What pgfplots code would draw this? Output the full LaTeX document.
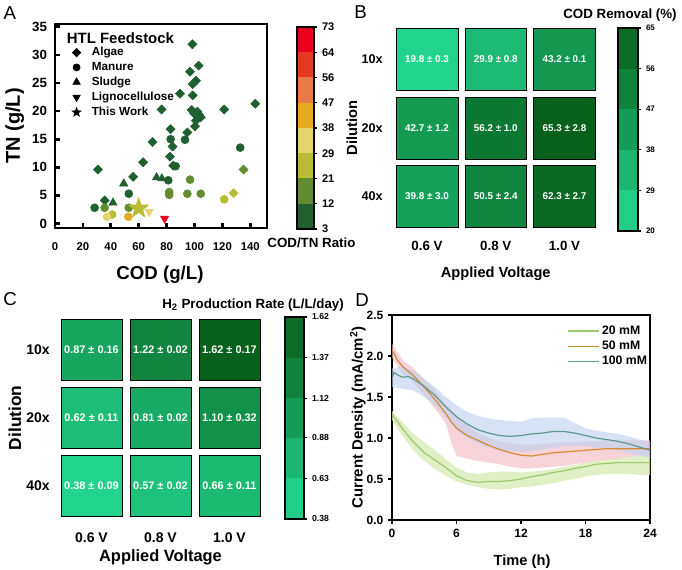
\documentclass[border=0pt]{standalone}
\usepackage{fontspec}
\setmainfont{Liberation Sans}
\usepackage{pgfplots}
\pgfplotsset{compat=1.18}

\definecolor{cA1}{HTML}{1F5F30}
\definecolor{cA2}{HTML}{628C2F}
\definecolor{cA3}{HTML}{B9BD35}
\definecolor{cA4}{HTML}{E6D36E}
\definecolor{cA5}{HTML}{E6A922}
\definecolor{cA6}{HTML}{E87A45}
\definecolor{cA7}{HTML}{E53A22}
\definecolor{cA8}{HTML}{E8001C}
\definecolor{hmL}{HTML}{22D38D}
\definecolor{hmD}{HTML}{07611A}
\definecolor{lineG}{HTML}{9CC96B}
\definecolor{bandG}{HTML}{D9EBB5}
\definecolor{lineO}{HTML}{D98A36}
\definecolor{bandO}{HTML}{F4BCC4}
\definecolor{lineT}{HTML}{5E9A8B}
\definecolor{bandT}{HTML}{BCD0EE}

\newcommand\fsz[1]{\fontsize{#1}{#1}\selectfont}

\pgfdeclareplotmark{dmd}{%
  \pgfpathmoveto{\pgfqpoint{0pt}{\pgfplotmarksize}}%
  \pgfpathlineto{\pgfqpoint{\pgfplotmarksize}{0pt}}%
  \pgfpathlineto{\pgfqpoint{0pt}{-\pgfplotmarksize}}%
  \pgfpathlineto{\pgfqpoint{-\pgfplotmarksize}{0pt}}%
  \pgfpathclose\pgfusepathqfillstroke}
\pgfdeclareplotmark{itri}{%
  \pgfpathmoveto{\pgfpointpolar{270}{\pgfplotmarksize}}%
  \pgfpathlineto{\pgfpointpolar{30}{\pgfplotmarksize}}%
  \pgfpathlineto{\pgfpointpolar{150}{\pgfplotmarksize}}%
  \pgfpathclose\pgfusepathqfillstroke}
\pgfdeclareplotmark{fstar}{%
  \pgfpathmoveto{\pgfpointpolar{90}{\pgfplotmarksize}}%
  \pgfpathlineto{\pgfpointpolar{126}{0.4\pgfplotmarksize}}%
  \pgfpathlineto{\pgfpointpolar{162}{\pgfplotmarksize}}%
  \pgfpathlineto{\pgfpointpolar{198}{0.4\pgfplotmarksize}}%
  \pgfpathlineto{\pgfpointpolar{234}{\pgfplotmarksize}}%
  \pgfpathlineto{\pgfpointpolar{270}{0.4\pgfplotmarksize}}%
  \pgfpathlineto{\pgfpointpolar{306}{\pgfplotmarksize}}%
  \pgfpathlineto{\pgfpointpolar{342}{0.4\pgfplotmarksize}}%
  \pgfpathlineto{\pgfpointpolar{18}{\pgfplotmarksize}}%
  \pgfpathlineto{\pgfpointpolar{54}{0.4\pgfplotmarksize}}%
  \pgfpathclose\pgfusepathqfillstroke}

\pgfplotsset{
  /pgf/number format/assume math mode=true,
  Acls/.style={scatter, only marks, mark=#1, point meta=explicit symbolic, forget plot,
    scatter/classes={
      a={mark=#1,draw=cA1,fill=cA1}, b={mark=#1,draw=cA2,fill=cA2},
      c={mark=#1,draw=cA3,fill=cA3}, d={mark=#1,draw=cA4,fill=cA4},
      e={mark=#1,draw=cA5,fill=cA5}, f={mark=#1,draw=cA6,fill=cA6},
      g={mark=#1,draw=cA7,fill=cA7}, h={mark=#1,draw=cA8,fill=cA8}}},
  hm/.style={only marks, mark=square*, mark size=#1, point meta=explicit symbolic,
    nodes near coords, every node near coord/.append style={anchor=center,text=white}},
  cbar/.style={scale only axis, anchor=north west, xmin=0, xmax=1, xtick=\empty,
    ytick pos=right, yticklabel pos=right, tick align=outside, major tick length=2.5pt,
    tick style={line width=1pt,black}, axis line style={line width=1.6pt}, axis on top},
  band/.style={fill=#1, draw=none, forget plot},
}

\begin{document}
\begin{tikzpicture}
\useasboundingbox (0,0) rectangle (511.5pt,426.75pt);

% ---------------- Panel A ----------------
\begin{axis}[
  at={(41.25pt,408.75pt)}, anchor=north west, scale only axis,
  width=159pt, height=153pt,
  xmin=0, xmax=152, ymin=-0.8, ymax=35.5,
  xtick={0,20,...,140}, ytick={0,5,...,35},
  tick align=inside, xtick pos=left, ytick pos=left,
  major tick length=4pt, tick style={line width=2pt,black},
  axis line style={line width=2.2pt},
  xticklabel style={font=\fsz{8.5}\bfseries, yshift=-7.5pt},
  yticklabel style={font=\fsz{10}\bfseries, xshift=-2.5pt},
  xlabel={COD (g/L)}, ylabel={TN (g/L)},
  xlabel style={font=\fsz{14}\bfseries, at={(axis description cs:0.495,-0.23)}, anchor=center},
  ylabel style={font=\fsz{15}\bfseries, at={(axis description cs:-0.19,0.5)}, anchor=center},
  clip=false,
  legend style={at={(axis description cs:0.079,0.9)}, anchor=north west, draw=none, fill=none,
    font=\fsz{8.8}\bfseries, row sep=-0.6pt, column sep=6pt, inner sep=0pt},
  legend cell align=left,
]
\addplot[Acls=dmd, mark size=3.4pt] coordinates {
 (98.5,31.9)[a] (103.0,28.1)[a] (96.8,27.0)[a] (101.1,25.4)[a] (98.7,24.8)[a]
 (89.6,23.1)[a] (98.7,22.8)[a] (76.4,20.3)[a] (98.0,20.2)[a] (99.7,19.6)[a]
 (102.1,19.9)[a] (103.5,19.3)[a] (104.5,18.9)[a] (101.0,18.3)[a] (121.3,20.3)[a]
 (143.6,21.3)[a] (100.4,17.3)[a] (94.9,16.2)[a] (82.9,16.8)[a] (69.9,14.5)[a]
 (84.3,13.7)[a] (82.4,11.9)[a] (84.8,10.3)[a] (63.2,10.9)[a] (30.8,9.6)[a]
 (56.0,8.3)[a] (135.2,9.6)[b] (35.6,4.1)[a] (128.0,5.4)[c]
};
\addplot[Acls=*, mark size=3pt] coordinates {
 (93.2,14.9)[a] (82.9,15.0)[a] (86.5,10.2)[a] (132.8,13.5)[a] (81.2,7.7)[a]
 (96.8,7.8)[b] (81.9,5.6)[b] (81.9,5.1)[b] (94.9,5.3)[b] (104.5,5.3)[b]
 (52.9,5.3)[a] (28.4,2.8)[a] (35.6,2.8)[b] (52.9,2.8)[b] (41.0,1.6)[c]
 (37.3,1.2)[d] (52.6,1.2)[e] (121.3,4.3)[c]
};
\addplot[Acls=triangle*, mark size=3.6pt] coordinates {
 (49.3,7.1)[a] (72.8,8.2)[a] (76.6,8.0)[a] (41.6,3.7)[a]
};
\addplot[Acls=itri, mark size=3.6pt] coordinates {
 (78.6,0.9)[h] (67.5,2.1)[d]
};
\addplot[Acls=fstar, mark size=8pt] coordinates {
 (60.0,2.7)[c]
};
\addlegendimage{only marks, mark=dmd, mark size=3.2pt, black}
\addlegendentry{Algae}
\addlegendimage{only marks, mark=*, mark size=2.7pt, black}
\addlegendentry{Manure}
\addlegendimage{only marks, mark=triangle*, mark size=3.3pt, black}
\addlegendentry{Sludge}
\addlegendimage{only marks, mark=itri, mark size=3.3pt, black}
\addlegendentry{Lignocellulose}
\addlegendimage{only marks, mark=fstar, mark size=3.6pt, black}
\addlegendentry{This Work}
\node[anchor=west, font=\fsz{11.2}\bfseries, inner sep=0pt] at (axis description cs:0.055,0.931) {HTL Feedstock};
\end{axis}

% colorbar A
\begin{axis}[cbar, at={(222.75pt,406.5pt)}, width=12.75pt, height=151.5pt,
  ymin=0, ymax=8, ytick={0,...,8}, yticklabels={3,12,21,29,38,47,56,64,73},
  yticklabel style={font=\fsz{8.3}\bfseries},
  xlabel={COD/TN Ratio},
  xlabel style={font=\fsz{10}\bfseries, at={(axis description cs:0.85,-0.07)}, anchor=center},
]
\addplot[band=cA1] coordinates {(0,0)(1,0)(1,1)(0,1)};
\addplot[band=cA2] coordinates {(0,1)(1,1)(1,2)(0,2)};
\addplot[band=cA3] coordinates {(0,2)(1,2)(1,3)(0,3)};
\addplot[band=cA4] coordinates {(0,3)(1,3)(1,4)(0,4)};
\addplot[band=cA5] coordinates {(0,4)(1,4)(1,5)(0,5)};
\addplot[band=cA6] coordinates {(0,5)(1,5)(1,6)(0,6)};
\addplot[band=cA7] coordinates {(0,6)(1,6)(1,7)(0,7)};
\addplot[band=cA8] coordinates {(0,7)(1,7)(1,8)(0,8)};
\end{axis}

% ---------------- Panel B ----------------
\begin{axis}[
  at={(294.45pt,407.81pt)}, anchor=north west, scale only axis,
  width=154.7pt, height=154.1pt,
  xmin=-0.5, xmax=2.5, ymin=-0.5, ymax=2.5,
  xtick={0,1,2}, xticklabels={0.6 V,0.8 V,1.0 V},
  ytick={0,1,2}, yticklabels={40x,20x,10x},
  axis line style={draw=none}, major tick length=0pt, tick style={draw=none},
  xticklabel style={font=\fsz{10}\bfseries, yshift=-4.4pt},
  yticklabel style={font=\fsz{9.5}\bfseries, xshift=-3.9pt},
  xlabel={Applied Voltage}, ylabel={Dilution},
  xlabel style={font=\fsz{11}\bfseries, at={(axis description cs:0.5,-0.21)}, anchor=center},
  ylabel style={font=\fsz{11}\bfseries, at={(axis description cs:-0.197,0.5)}, anchor=center},
  clip=false,
  every node near coord/.append style={font=\fsz{7.4}\bfseries},
]
\addplot[hm=23.2pt, mark options={fill=hmD!0!hmL, draw=none}] coordinates {(0,2)[19.8 ± 0.3]};
\addplot[hm=23.2pt, mark options={fill=hmD!22!hmL, draw=none}] coordinates {(1,2)[29.9 ± 0.8]};
\addplot[hm=23.2pt, mark options={fill=hmD!52!hmL, draw=none}] coordinates {(2,2)[43.2 ± 0.1]};
\addplot[hm=23.2pt, mark options={fill=hmD!50!hmL, draw=none}] coordinates {(0,1)[42.7 ± 1.2]};
\addplot[hm=23.2pt, mark options={fill=hmD!80!hmL, draw=none}] coordinates {(1,1)[56.2 ± 1.0]};
\addplot[hm=23.2pt, mark options={fill=hmD!100!hmL, draw=none}] coordinates {(2,1)[65.3 ± 2.8]};
\addplot[hm=23.2pt, mark options={fill=hmD!44!hmL, draw=none}] coordinates {(0,0)[39.8 ± 3.0]};
\addplot[hm=23.2pt, mark options={fill=hmD!68!hmL, draw=none}] coordinates {(1,0)[50.5 ± 2.4]};
\addplot[hm=23.2pt, mark options={fill=hmD!94!hmL, draw=none}] coordinates {(2,0)[62.3 ± 2.7]};
\end{axis}

% colorbar B
\begin{axis}[cbar, at={(463.5pt,405.75pt)}, width=15pt, height=152.25pt,
  ymin=20, ymax=65, ytick={20,29,38,47,56,65}, yticklabels={20,29,38,47,56,65},
  yticklabel style={font=\fsz{6}\bfseries},
  title={COD Removal (\%)},
  title style={font=\fsz{10}\bfseries, at={(axis description cs:0.1,1.025)}, anchor=center},
]
\addplot[band=hmD!5!hmL] coordinates {(0,20)(1,20)(1,29)(0,29)};
\addplot[band=hmD!25!hmL] coordinates {(0,29)(1,29)(1,38)(0,38)};
\addplot[band=hmD!48!hmL] coordinates {(0,38)(1,38)(1,47)(0,47)};
\addplot[band=hmD!70!hmL] coordinates {(0,47)(1,47)(1,56)(0,56)};
\addplot[band=hmD!90!hmL] coordinates {(0,56)(1,56)(1,65)(0,65)};
\end{axis}

% ---------------- Panel C ----------------
\begin{axis}[
  at={(42.75pt,189.68pt)}, anchor=north west, scale only axis,
  width=155.25pt, height=152.5pt,
  xmin=-0.5, xmax=2.5, ymin=-0.5, ymax=2.5,
  xtick={0,1,2}, xticklabels={0.6 V,0.8 V,1.0 V},
  ytick={0,1,2}, yticklabels={40x,20x,10x},
  axis line style={draw=none}, major tick length=0pt, tick style={draw=none},
  xticklabel style={font=\fsz{10.5}\bfseries, yshift=-6.2pt},
  yticklabel style={font=\fsz{10.5}\bfseries, xshift=-2pt},
  xlabel={Applied Voltage}, ylabel={Dilution},
  xlabel style={font=\fsz{12.3}\bfseries, at={(axis description cs:0.5,-0.185)}, anchor=center},
  ylabel style={font=\fsz{13}\bfseries, at={(axis description cs:-0.203,0.5)}, anchor=center},
  clip=false,
  every node near coord/.append style={font=\fsz{8.2}\bfseries},
]
\addplot[hm=22.9pt, mark options={fill=hmD!40!hmL, draw=none}] coordinates {(0,2)[0.87 ± 0.16]};
\addplot[hm=22.9pt, mark options={fill=hmD!68!hmL, draw=none}] coordinates {(1,2)[1.22 ± 0.02]};
\addplot[hm=22.9pt, mark options={fill=hmD!100!hmL, draw=none}] coordinates {(2,2)[1.62 ± 0.17]};
\addplot[hm=22.9pt, mark options={fill=hmD!19!hmL, draw=none}] coordinates {(0,1)[0.62 ± 0.11]};
\addplot[hm=22.9pt, mark options={fill=hmD!35!hmL, draw=none}] coordinates {(1,1)[0.81 ± 0.02]};
\addplot[hm=22.9pt, mark options={fill=hmD!58!hmL, draw=none}] coordinates {(2,1)[1.10 ± 0.32]};
\addplot[hm=22.9pt, mark options={fill=hmD!0!hmL, draw=none}] coordinates {(0,0)[0.38 ± 0.09]};
\addplot[hm=22.9pt, mark options={fill=hmD!15!hmL, draw=none}] coordinates {(1,0)[0.57 ± 0.02]};
\addplot[hm=22.9pt, mark options={fill=hmD!23!hmL, draw=none}] coordinates {(2,0)[0.66 ± 0.11]};
\end{axis}

% colorbar C
\begin{axis}[cbar, at={(213.75pt,189pt)}, width=14.25pt, height=151.5pt,
  ymin=0.38, ymax=1.62, ytick={0.38,0.63,0.88,1.12,1.37,1.62},
  yticklabels={0.38,0.63,0.88,1.12,1.37,1.62},
  yticklabel style={font=\fsz{6.5}\bfseries},
  title={H\textsubscript{2} Production Rate (L/L/day)},
  title style={font=\fsz{10}\bfseries, at={(axis description cs:-1.68,1.02)}, anchor=center},
]
\addplot[band=hmD!5!hmL] coordinates {(0,0.38)(1,0.38)(1,0.63)(0,0.63)};
\addplot[band=hmD!25!hmL] coordinates {(0,0.63)(1,0.63)(1,0.88)(0,0.88)};
\addplot[band=hmD!48!hmL] coordinates {(0,0.88)(1,0.88)(1,1.12)(0,1.12)};
\addplot[band=hmD!70!hmL] coordinates {(0,1.12)(1,1.12)(1,1.37)(0,1.37)};
\addplot[band=hmD!90!hmL] coordinates {(0,1.37)(1,1.37)(1,1.62)(0,1.62)};
\end{axis}

% ---------------- Panel D ----------------
\begin{axis}[
  at={(294pt,190.5pt)}, anchor=north west, scale only axis,
  width=193.5pt, height=153.75pt,
  xmin=0, xmax=24, ymin=0, ymax=2.5,
  xtick={0,6,12,18,24}, xticklabels={0,6,12,18,24},
  ytick={0,0.5,1,1.5,2,2.5}, yticklabels={0.0,0.5,1.0,1.5,2.0,2.5},
  tick align=outside, xtick pos=left, ytick pos=left,
  major tick length=3pt, tick style={line width=1pt,black},
  axis line style={line width=1.5pt},
  ticklabel style={font=\fsz{9}\bfseries},
  xlabel={Time (h)}, ylabel={Current Density (mA/cm\textsuperscript{2})},
  xlabel style={font=\fsz{11}\bfseries, at={(axis description cs:0.504,-0.205)}, anchor=center},
  ylabel style={font=\fsz{11.2}\bfseries, at={(axis description cs:-0.132,0.5)}, anchor=center},
  legend style={at={(axis description cs:1.0,0.962)}, anchor=north east, draw=none, fill=none,
    font=\fsz{9.2}\bfseries, row sep=-0.6pt, inner sep=0pt},
  legend cell align=left,
  legend image code/.code={\draw[#1](0cm,0cm)--(0.8cm,0cm);},
]
% shaded bands: upper edge forward, lower edge backward
\addplot[band=bandG, fill opacity=0.8] coordinates {(0,1.33)(1,1.19)(2,1.05)(3,0.95)(4,0.85)(5,0.74)(6,0.64)(7,0.58)(8,0.56)(9,0.58)(10,0.59)(11,0.59)(12,0.58)(13,0.59)(14,0.6)(15,0.62)(16,0.65)(17,0.67)(18,0.7)(19,0.72)(20,0.75)(21,0.76)(22,0.77)(23,0.78)(24,0.78)
 (24,0.55)(23,0.55)(22,0.56)(21,0.56)(20,0.56)(19,0.55)(18,0.53)(17,0.5)(16,0.48)(15,0.45)(14,0.43)(13,0.41)(12,0.40)(11,0.38)(10,0.37)(9,0.38)(8,0.40)(7,0.43)(6,0.47)(5,0.54)(4,0.62)(3,0.72)(2,0.85)(1,1.02)(0,1.22)};
\addplot[band=bandO, fill opacity=0.65] coordinates {(0,2.15)(1,1.95)(2,1.85)(3,1.72)(4,1.58)(5,1.42)(6,1.28)(7,1.15)(8,1.06)(9,1.0)(10,0.96)(11,0.94)(12,0.92)(13,0.92)(14,0.93)(15,0.94)(16,0.95)(17,0.95)(18,0.96)(19,0.96)(20,0.97)(21,0.97)(22,0.97)(23,0.97)(24,0.97)
 (24,0.78)(23,0.78)(22,0.77)(21,0.75)(20,0.74)(19,0.72)(18,0.70)(17,0.68)(16,0.66)(15,0.65)(14,0.64)(13,0.63)(12,0.63)(11,0.65)(10,0.68)(9,0.70)(8,0.72)(7,0.75)(6,0.78)(5.5,0.95)(5,1.18)(4,1.36)(3,1.52)(2,1.68)(1,1.78)(0,1.98)};
\addplot[band=bandT, fill opacity=0.6] coordinates {(0,1.85)(1,1.87)(2,1.82)(3,1.72)(4,1.62)(5,1.50)(6,1.40)(7,1.32)(8,1.27)(9,1.24)(10,1.22)(11,1.21)(12,1.20)(13,1.24)(14,1.25)(15,1.25)(16,1.25)(17,1.18)(18,1.12)(19,1.09)(20,1.07)(21,1.05)(22,1.02)(23,0.98)(24,0.95)
 (24,0.76)(23,0.79)(22,0.82)(21,0.85)(20,0.87)(19,0.88)(18,0.90)(17,0.90)(16,0.90)(15,0.88)(14,0.86)(13,0.84)(12,0.83)(11,0.84)(10,0.85)(9,0.88)(8,0.93)(7,1.00)(6,1.10)(5,1.25)(4,1.40)(3,1.50)(2,1.58)(1,1.60)(0,1.62)};
\addplot[lineG, line width=0.9pt] coordinates {(0,1.29)(1,1.11)(2,0.95)(3,0.82)(4,0.73)(5,0.64)(6,0.54)(7,0.48)(8,0.46)(9,0.47)(10,0.47)(11,0.48)(12,0.50)(13,0.53)(14,0.55)(15,0.58)(16,0.60)(17,0.63)(18,0.65)(19,0.68)(20,0.69)(21,0.70)(22,0.70)(23,0.70)(24,0.70)};
\addlegendentry{20 mM}
\addplot[lineO, line width=0.9pt] coordinates {(0,2.08)(0.5,1.95)(1,1.87)(2,1.76)(3,1.62)(4,1.47)(5,1.30)(5.5,1.2)(6,1.12)(7,1.03)(8,0.97)(9,0.91)(10,0.86)(11,0.82)(12,0.79)(13,0.78)(14,0.80)(15,0.82)(16,0.83)(17,0.84)(18,0.85)(19,0.86)(20,0.87)(21,0.87)(22,0.87)(23,0.87)(24,0.87)};
\addlegendentry{50 mM}
\addplot[lineT, line width=0.9pt] coordinates {(0,1.72)(0.2,1.80)(0.5,1.77)(1,1.74)(1.5,1.75)(2,1.72)(3,1.63)(4,1.52)(5,1.38)(6,1.26)(7,1.17)(8,1.10)(9,1.06)(10,1.03)(11,1.02)(12,1.03)(13,1.05)(14,1.06)(15,1.08)(16,1.08)(17,1.06)(18,1.03)(19,1.00)(20,0.98)(21,0.96)(22,0.93)(23,0.89)(24,0.85)};
\addlegendentry{100 mM}
\end{axis}

% panel letters
\node[font=\fsz{14}] at (7.3pt,416.8pt) {A};
\node[font=\fsz{14}] at (270.5pt,418pt) {B};
\node[font=\fsz{14}] at (7.5pt,202.1pt) {C};
\node[font=\fsz{14}] at (271.5pt,201.75pt) {D};
\end{tikzpicture}
\end{document}
